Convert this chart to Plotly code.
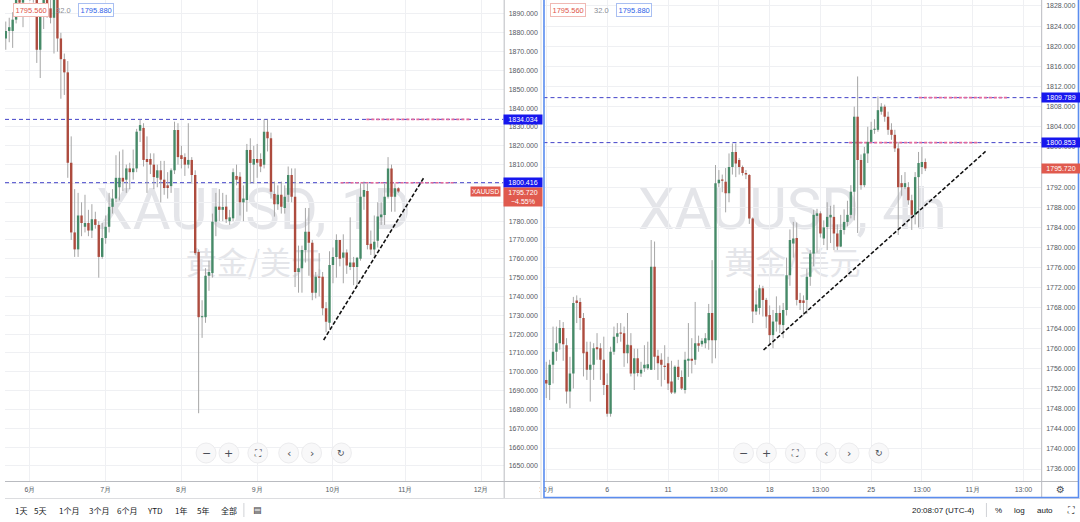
import numpy as np
import pandas as pd
import plotly.graph_objects as go

W, H = 1080, 522
FONT = "Liberation Sans, Arial, sans-serif"
CJK = "Noto Sans CJK SC, sans-serif"

# ---------------- daily XAUUSD (left panel) ----------------
d_first_day = "2021-05-21"
d_open = [1877, 1881, 1881, 1887, 1899, 1896, 1903,
          1905, 1903, 1908, 1871, 1891, 1899, 1893, 1888, 1899, 1877,
          1866, 1859, 1811, 1774, 1765, 1783, 1777, 1779, 1775, 1781,
          1778, 1761, 1771, 1777, 1787.6, 1792, 1798, 1803, 1802, 1808,
          1806, 1808, 1828, 1829.5, 1813, 1813, 1810, 1803, 1807, 1802,
          1799, 1798.6, 1807, 1828.4, 1815, 1814, 1810, 1812.5, 1804.5, 1763.6,
          1729, 1729, 1751, 1752.4, 1779.7, 1787.7, 1786, 1787.7, 1780, 1781.5,
          1804, 1803.6, 1790, 1791.2, 1817.8, 1810, 1813, 1813, 1810, 1827.5,
          1824, 1794.4, 1789, 1794, 1787, 1794, 1804.5, 1793, 1753, 1755,
          1764.7, 1774.4, 1768.5, 1742, 1750.5, 1750.5, 1733.7, 1726, 1756.7, 1761,
          1770, 1760.5, 1763.4, 1755.7, 1758, 1755.7, 1760, 1793, 1796, 1768,
          1765, 1769.6, 1782, 1783.3, 1793, 1808, 1793, 1797.5]
d_high = [1886, 1888, 1891, 1902, 1912, 1906, 1910,
          1916, 1910, 1909, 1895, 1903, 1903, 1900, 1904, 1903, 1880,
          1869, 1865, 1825, 1797, 1795, 1790, 1794, 1786, 1789, 1785,
          1780, 1779, 1783, 1795, 1797, 1815, 1817, 1818, 1810, 1811,
          1818, 1829, 1834, 1832, 1825, 1816, 1816, 1810, 1812, 1812,
          1806, 1808, 1832.8, 1832, 1820, 1816, 1832, 1814, 1807, 1765,
          1738, 1755, 1759, 1784, 1795, 1797, 1795, 1794, 1786, 1808,
          1810, 1806, 1799, 1821, 1824, 1820, 1821, 1816, 1834, 1834,
          1827, 1801, 1799, 1801, 1799, 1809, 1808, 1808, 1767, 1767,
          1787, 1787, 1770, 1753, 1763, 1753, 1737, 1764, 1766, 1773,
          1770, 1773, 1765, 1782, 1761, 1761, 1800, 1801, 1800, 1775,
          1783, 1790, 1790, 1800, 1814, 1810, 1800, 1798]
d_low = [1871, 1875, 1872, 1885, 1891, 1883, 1898,
         1897, 1896, 1864, 1856, 1882, 1888, 1885, 1869, 1870, 1845,
         1847, 1803, 1770, 1761, 1761, 1772, 1774, 1772, 1771, 1776,
         1750, 1760, 1768, 1774, 1784, 1790, 1791, 1796, 1795, 1797,
         1802, 1806, 1822, 1809, 1795, 1805, 1797, 1798, 1790, 1794,
         1792, 1795, 1805, 1810, 1808, 1804, 1808, 1800, 1762, 1678,
         1718, 1726, 1743, 1750, 1772, 1780, 1780, 1779, 1778, 1780,
         1799, 1783, 1780, 1785, 1800, 1800, 1803, 1806, 1808, 1817,
         1792, 1782.4, 1786, 1784, 1784, 1790, 1790, 1745, 1742, 1742,
         1758, 1751, 1738, 1739, 1740, 1730, 1721, 1723, 1747, 1750,
         1756, 1747, 1752, 1754, 1746, 1746, 1759, 1786, 1765, 1762,
         1761, 1766, 1778, 1778, 1792, 1785, 1785, 1795]
d_close = [1881, 1883, 1887, 1899, 1896, 1903, 1905,
           1903, 1908, 1871, 1891, 1899, 1893, 1888, 1899, 1877, 1866,
           1859, 1811, 1774, 1765, 1783, 1779, 1779, 1775, 1781, 1778,
           1761, 1771, 1777, 1787.6, 1792, 1803, 1803, 1801, 1808, 1806,
           1808, 1827.5, 1831, 1812.5, 1811.4, 1810, 1803.4, 1807, 1802, 1797.6,
           1797.6, 1807, 1828.4, 1814, 1813, 1810, 1812.5, 1804.5, 1763, 1729,
           1729.5, 1751, 1753, 1779.7, 1787.7, 1786, 1787.5, 1781, 1782, 1806,
           1802, 1790, 1792, 1817.8, 1810.9, 1813, 1811, 1809, 1827.5, 1824,
           1795.6, 1789, 1794, 1787.6, 1793, 1804.5, 1793, 1753, 1755, 1764.7,
           1774.4, 1768.5, 1742, 1750.5, 1750, 1733.7, 1726.6, 1756.7, 1761, 1770,
           1760, 1763.4, 1756.5, 1758, 1755.7, 1760.5, 1793, 1796.5, 1767.3, 1765,
           1769, 1782.4, 1783.5, 1793, 1808, 1793, 1797.5, 1795.72]
d_month_ticks = ["2021-06-01", "2021-07-01", "2021-08-02", "2021-09-01",
                 "2021-10-01", "2021-11-01", "2021-12-01"]
d_month_labels = ["6月", "7月", "8月", "9月", "10月", "11月", "12月"]
d_price_ticks = list(range(1650, 1891, 10))
d_levels = [1834.034, 1800.416]
d_level_marks = [(97.7, 127.7), (90.2, 123.7)]
d_trend_x = [85.3, 114.5]
d_trend_y = [1716.9, 1803.4]

# ---------------- 4h XAUUSD (right panel) ----------------
h4_first_pos = -18
h4_open = [1753.7, 1752.7, 1756.7, 1759.3, 1761, 1764, 1760.6, 1751.4, 1755, 1769.5,
           1769.2, 1766, 1759.3, 1755.7, 1756.7, 1760.2, 1760, 1757.7,
           1752.7, 1747, 1759.3, 1762.3, 1763.1, 1763, 1759, 1760.6, 1755, 1758,
           1755, 1756, 1756, 1755.7, 1776.2, 1758.5, 1757.7, 1756.5, 1757, 1753.4,
           1751.2, 1756.3, 1754.3, 1751.7, 1757.5, 1757.9, 1757.7, 1761, 1760.8, 1761,
           1761.6, 1767, 1761.6, 1792.8, 1793.5, 1793.1, 1790.8, 1796, 1799, 1797.4,
           1796, 1794.8, 1794.4, 1785.8, 1767.3, 1768, 1771.9, 1769.6, 1766.6, 1762.6,
           1765.3, 1767, 1764.6, 1767.6, 1774.5, 1780.8, 1781.9, 1769.6, 1769.5, 1769.6,
           1774.2, 1778.8, 1786.3, 1786.8, 1781.8, 1784.1, 1786, 1786.1, 1782.8, 1780.2,
           1783.5, 1785.1, 1786.5, 1791.1, 1806, 1797.4, 1792.4, 1798.7, 1801, 1803.4,
           1803.4, 1807, 1808, 1806, 1803.4, 1802.4, 1799.7, 1792.8, 1792, 1792,
           1789.4, 1786.5, 1794, 1796, 1797]
h4_high = [1757.3, 1757.7, 1764.3, 1764.3, 1765.6, 1765.2, 1762, 1758.3, 1770.2, 1770.5,
           1770, 1767, 1761.3, 1761.3, 1761, 1763, 1761, 1762.3,
           1755, 1760.3, 1764.3, 1765, 1765, 1764.3, 1767, 1763, 1759.9, 1759.9,
           1757.3, 1760.6, 1761.3, 1781.5, 1781.2, 1759.7, 1759, 1760.6, 1758.3, 1757.5,
           1756.6, 1757.7, 1755.6, 1759.3, 1765, 1762, 1769.2, 1762.5, 1762, 1763,
           1768.8, 1777.5, 1796.4, 1795.4, 1794.5, 1795.8, 1798.7, 1800.7, 1800.7, 1797.8,
           1796.3, 1795.4, 1794.6, 1786, 1771.5, 1772.6, 1772.4, 1770, 1768.5, 1767.6,
           1770.3, 1768.5, 1769, 1778, 1783.6, 1785.1, 1785, 1771, 1770.5, 1775.8,
           1779.5, 1787.5, 1787.7, 1787.2, 1785.4, 1789, 1788.3, 1788.5, 1784.6, 1786.5,
           1787.6, 1789.3, 1792.4, 1808, 1814, 1798.5, 1800, 1804, 1805, 1805.5,
           1810, 1808.7, 1808.4, 1807, 1804.7, 1803.4, 1801, 1794.4, 1795, 1793,
           1790.5, 1795, 1799, 1800, 1797.7]
h4_low = [1750.1, 1749.7, 1753, 1757.5, 1759.7, 1757.5, 1749, 1748.1, 1752, 1765,
          1763.6, 1754.4, 1753.7, 1749.4, 1753.7, 1757.7, 1753.7, 1750.7,
          1746.4, 1746.4, 1758.7, 1761, 1761.3, 1756.3, 1757, 1754.4, 1751.7, 1754.4,
          1754.3, 1755.3, 1755.7, 1755.7, 1755.7, 1753.7, 1752.4, 1753.7, 1751.7, 1750.9,
          1750.9, 1753.7, 1751.7, 1751, 1754.3, 1755, 1756.7, 1759.3, 1760.3, 1760,
          1759.7, 1757, 1758, 1792, 1791, 1787, 1789, 1794.5, 1794, 1794.5,
          1794.3, 1793.6, 1784.7, 1765, 1766.6, 1766.7, 1766.3, 1764, 1760.6, 1760,
          1763.3, 1763, 1762, 1766.5, 1772.4, 1778, 1768.5, 1767.6, 1766.5, 1766.8,
          1772.4, 1776.3, 1779, 1782, 1780.5, 1779.5, 1780.9, 1779.5, 1779.5, 1780.1,
          1782.6, 1784.2, 1785.8, 1785.4, 1782.9, 1791.5, 1792, 1796.8, 1801, 1802.6,
          1803, 1806.4, 1805, 1802.4, 1801.4, 1799, 1782.5, 1790.3, 1791.6, 1788.5,
          1783.5, 1784.6, 1784, 1794.6, 1795.2]
h4_close = [1753, 1756.7, 1759.3, 1761, 1764, 1760.8, 1751.4, 1755, 1769, 1769,
            1766, 1759, 1755.7, 1756.7, 1760, 1759.8, 1757.7, 1752.7,
            1747, 1759.3, 1762.3, 1763, 1762.9, 1759, 1760.7, 1755, 1758, 1755.1,
            1755.7, 1756.7, 1756.8, 1776.2, 1758.3, 1757, 1756.7, 1756.3, 1753, 1751.2,
            1756.3, 1754.3, 1752, 1757.7, 1757.9, 1757.5, 1761, 1760.5, 1761.5, 1762,
            1767, 1761.6, 1792.8, 1793.5, 1793.3, 1790.8, 1796, 1799, 1796.7, 1796,
            1794.8, 1794.5, 1785.8, 1767.3, 1768.7, 1771.9, 1769.6, 1766.3, 1762.6, 1765.3,
            1767, 1764.7, 1767.6, 1774.5, 1781.5, 1781.8, 1769.6, 1769, 1769, 1774.2,
            1778.8, 1786.5, 1786.8, 1782.8, 1784, 1786.1, 1786.5, 1782.8, 1780.2, 1783.5,
            1785.1, 1786.5, 1791.1, 1806, 1797.4, 1792.4, 1798.7, 1801, 1803.4, 1803.6,
            1807.3, 1808, 1806, 1803.4, 1802.4, 1799.7, 1792, 1792, 1792.8, 1789.4,
            1786.5, 1794, 1796.8, 1797, 1795.72]
h4_tick_pos = [-18, 0, 18, 33, 48, 63, 78, 93, 108, 123]
h4_tick_labels = ["10月", "6", "11", "13:00", "18", "13:00", "25", "13:00", "11月", "13:00"]
h4_price_ticks = list(range(1736, 1829, 4))
h4_levels = [1809.789, 1800.853]
h4_level_marks = [(92.1, 118.5), (71.5, 110.0)]
h4_trend_x = [46.2, 111.8]
h4_trend_y = [1759.65, 1799.1]

last_price = 1795.72
last_change = "−4.55%"

# ---------------- positions ----------------
d_dates = pd.bdate_range(d_first_day, periods=len(d_open)).values.astype("datetime64[D]")
d_x = np.busday_count(np.datetime64("2021-06-01"), d_dates).tolist()
d_tick_pos = [int(np.busday_count(np.datetime64("2021-06-01"), np.datetime64(t))) for t in d_month_ticks]
h4_x = list(range(h4_first_pos, h4_first_pos + len(h4_open)))

D_XR = [-7.225, 137.57]
H4_XR = [-18.82, 128.24]

GREEN = "#468a68"
RED = "#ad4b3e"
WICK = "#a6a6a6"
GRID = "#eff0f3"
AXC = "#b9bbc0"
TXT = "#555a63"
LEVEL = "#4343c8"
PINK = "#e56a9c"


def wick_xy(xs, hi, lo):
    X, Y = [], []
    for x, h, l in zip(xs, hi, lo):
        X += [x, x, None]
        Y += [l, h, None]
    return X, Y


def body_xy(xs, o, c, minh, up):
    X, Y = [], []
    for x, oo, cc in zip(xs, o, c):
        if (cc >= oo) != up:
            continue
        lo, hi = min(oo, cc), max(oo, cc)
        if hi - lo < minh:
            m = (lo + hi) / 2
            lo, hi = m - minh / 2, m + minh / 2
        X += [x, x, None]
        Y += [lo, hi, None]
    return X, Y


fig = go.Figure()

# horizontal levels (drawn first so candles sit on top)
for xa, ya, xr, levels, marks in (("x", "y", D_XR, d_levels, d_level_marks),
                                   ("x2", "y2", H4_XR, h4_levels, h4_level_marks)):
    for lv, (m0, m1) in zip(levels, marks):
        fig.add_trace(go.Scatter(x=xr, y=[lv, lv], mode="lines",
                                 line=dict(color=LEVEL, width=1, dash="4px,3px"),
                                 hoverinfo="skip", xaxis=xa, yaxis=ya))
        fig.add_trace(go.Scatter(x=[m0, m1], y=[lv, lv], mode="lines",
                                 line=dict(color=PINK, width=1.6, dash="3px,2px"),
                                 hoverinfo="skip", xaxis=xa, yaxis=ya))


def add_candles(xs, o, hi, lo, c, minh, xa, ya):
    wx, wy = wick_xy(xs, hi, lo)
    fig.add_trace(go.Scatter(x=wx, y=wy, mode="lines", line=dict(color=WICK, width=1),
                             hoverinfo="skip", xaxis=xa, yaxis=ya))
    for up, col in ((True, GREEN), (False, RED)):
        bx, by = body_xy(xs, o, c, minh, up)
        fig.add_trace(go.Scatter(x=bx, y=by, mode="lines", line=dict(color=col, width=2.4),
                                 hoverinfo="skip", xaxis=xa, yaxis=ya))


add_candles(d_x, d_open, d_high, d_low, d_close, 0.6, "x", "y")
add_candles(h4_x, h4_open, h4_high, h4_low, h4_close, 0.22, "x2", "y2")

fig.add_trace(go.Scatter(x=d_trend_x, y=d_trend_y, mode="lines",
                         line=dict(color="#111111", width=1.6, dash="4px,2px"),
                         hoverinfo="skip", xaxis="x", yaxis="y"))
fig.add_trace(go.Scatter(x=h4_trend_x, y=h4_trend_y, mode="lines",
                         line=dict(color="#111111", width=1.6, dash="4px,2px"),
                         hoverinfo="skip", xaxis="x2", yaxis="y2"))


def px(x):
    return x / W


def py(y):
    return 1 - y / H


ydom = [py(481), 1]
axis_font = dict(size=7, color=TXT, family=FONT)

fig.update_layout(
    width=W, height=H, margin=dict(l=0, r=0, t=0, b=0),
    paper_bgcolor="white", plot_bgcolor="rgba(0,0,0,0)", showlegend=False,
    hovermode=False,
    xaxis=dict(domain=[0, px(501)], range=D_XR, tickvals=d_tick_pos,
               ticktext=d_month_labels, showgrid=True, gridcolor=GRID, zeroline=False,
               ticks="", tickfont=axis_font, ticklabelstandoff=3, anchor="y", fixedrange=True),
    yaxis=dict(domain=ydom, range=[1642.0, 1897.43], side="right", anchor="x",
               tickvals=d_price_ticks, ticktext=["%.3f" % v for v in d_price_ticks],
               showgrid=True, gridcolor=GRID, zeroline=False, ticks="", tickfont=axis_font,
               ticklabelstandoff=4, fixedrange=True),
    xaxis2=dict(domain=[px(541), px(1041)], range=H4_XR, tickvals=h4_tick_pos,
                ticktext=h4_tick_labels, showgrid=True, gridcolor=GRID, zeroline=False,
                ticks="", tickfont=axis_font, ticklabelstandoff=3, anchor="y2", fixedrange=True),
    yaxis2=dict(domain=ydom, range=[1733.62, 1829.19], side="right", anchor="x2",
                tickvals=h4_price_ticks, ticktext=["%.3f" % v for v in h4_price_ticks],
                showgrid=True, gridcolor=GRID, zeroline=False, ticks="", tickfont=axis_font,
                ticklabelstandoff=4, fixedrange=True),
)

shapes = []
# watermarks
for cx, t1 in ((250, "XAUUSD, 1D"), (791, "XAUUSD, 4h")):
    shapes.append(dict(type="rect", xref="paper", yref="paper", x0=px(cx - 200), x1=px(cx + 200),
                       y0=py(235), y1=py(175), line=dict(width=0), fillcolor="rgba(0,0,0,0)",
                       layer="below",
                       label=dict(text=t1, textposition="middle center",
                                  font=dict(size=58, color="#e4e5e9", family="Roboto"))))
    shapes.append(dict(type="rect", xref="paper", yref="paper", x0=px(cx - 120), x1=px(cx + 120),
                       y0=py(285), y1=py(245), line=dict(width=0), fillcolor="rgba(0,0,0,0)",
                       layer="below",
                       label=dict(text="黄金/美元", textposition="middle center",
                                  font=dict(size=31, color="#e4e5e9", family=CJK))))


def pline(x0, y0, x1, y1, color, width=1, layer="above"):
    shapes.append(dict(type="line", xref="paper", yref="paper", x0=px(x0), y0=py(y0),
                       x1=px(x1), y1=py(y1), line=dict(color=color, width=width), layer=layer))


# axis lines and borders
pline(501.5, 0, 501.5, 498, AXC)
pline(0, 481.5, 538, 481.5, AXC)
pline(1041.5, 0, 1041.5, 498, AXC)
pline(541, 481.5, 1078, 481.5, AXC)
pline(0, 498.5, 1080, 498.5, "#dcdde0")
pline(240, 503, 240, 517, "#d0d2d6")
pline(986, 503, 986, 517, "#d0d2d6")
# cover clipped part of first time label
shapes.append(dict(type="rect", xref="paper", yref="paper", x0=px(537.5), x1=px(541.5),
                   y0=py(497), y1=py(482), line=dict(width=0), fillcolor="white", layer="above"))
pline(538.5, 0, 538.5, 498, "#dcdde0")
# right panel selection border
shapes.append(dict(type="rect", xref="paper", yref="paper", x0=px(541.5), x1=px(1078.5),
                   y0=py(497.5), y1=py(-2), line=dict(color="#5b8def", width=1.6),
                   fillcolor="rgba(0,0,0,0)", layer="above"))

# toolbar circles
tool_icons = ["−", "+", "⛶", "‹", "›", "↻"]
tool_dx = [202, 225, 254, 285, 308, 338]
annotations = []
for off in (0, 540):
    for dx, ic in zip(tool_dx, tool_icons):
        cx = dx + off
        shapes.append(dict(type="circle", xref="paper", yref="paper", x0=px(cx - 10), x1=px(cx + 10),
                           y0=py(463), y1=py(443), line=dict(color="#ececee", width=1),
                           fillcolor="#f8f8f9", layer="above"))
        annotations.append(dict(x=px(cx), y=py(453), xref="paper", yref="paper", text=ic,
                                showarrow=False, xanchor="center", yanchor="middle",
                                font=dict(size=11 if ic in "−+‹›" else 9, color="#4a4e57",
                                          family="DejaVu Sans")))

fig.update_layout(shapes=shapes)


def ann(x, y, text, size=8, color="#131722", family=FONT, **kw):
    d = dict(x=px(x), y=py(y), xref="paper", yref="paper", text=text, showarrow=False,
             xanchor="center", yanchor="middle", font=dict(size=size, color=color, family=family))
    d.update(kw)
    return d


# legend boxes on top-left
for off in (0, 540):
    annotations.append(ann(26 + off, 10.5, "1795.560", size=7.5, color="#e0554b",
                           bordercolor="#f0b9b4", borderwidth=1, borderpad=1.5, bgcolor="white"))
    annotations.append(ann(59 + off, 10.5, "32.0", size=7.5, color="#8a8d94"))
    annotations.append(ann(91.5 + off, 10.5, "1795.880", size=7.5, color="#2f62e8",
                           bordercolor="#a9bff2", borderwidth=1, borderpad=1.5, bgcolor="white"))


def price_tag(yref, price, x0, text, bg, yanchor="middle", yshift=0, width=36):
    return dict(x=px(x0), y=price, xref="paper", yref=yref, text=text, showarrow=False,
                xanchor="left", yanchor=yanchor, yshift=yshift, bgcolor=bg, borderpad=1,
                width=width, align="center", font=dict(size=7, color="white", family=FONT))


for lv in d_levels:
    annotations.append(price_tag("y", lv, 500.5, "%.3f" % lv, "#1717ee"))
for lv in h4_levels:
    annotations.append(price_tag("y2", lv, 1041, "%.3f" % lv, "#1717ee"))
annotations.append(price_tag("y", last_price, 500.5, "%.3f<br>%s" % (last_price, last_change),
                             "#e05a4e", yanchor="top", yshift=5))
annotations.append(price_tag("y2", last_price, 1041, "%.3f" % last_price, "#e05a4e"))
annotations.append(dict(x=px(498), y=last_price, xref="paper", yref="y", text="XAUUSD",
                        showarrow=False, xanchor="right", yanchor="middle", yshift=0,
                        bgcolor="#e05a4e", borderpad=1, font=dict(size=6.5, color="white", family=FONT)))

# gear icon
annotations.append(ann(1060, 489, "⚙", size=10, color="#4a4e57", family="DejaVu Sans"))

# bottom bar
bottom_items = [("1天", 16), ("5天", 35), ("1个月", 64), ("3个月", 94), ("6个月", 123), ("YTD", 151),
                ("1年", 177), ("5年", 199), ("全部", 225)]
for t, x in bottom_items:
    annotations.append(ann(x, 510, t, size=8, family=CJK))
annotations.append(ann(254, 510, "▤", size=9, color="#333", family="DejaVu Sans"))
annotations.append(ann(943, 510, "20:08:07 (UTC-4)", size=8))
annotations.append(ann(998, 510, "%", size=8))
annotations.append(ann(1019, 510, "log", size=8))
annotations.append(ann(1045, 510, "auto", size=8))
annotations.append(ann(1071, 510, "⛶", size=9, color="#333", family="DejaVu Sans"))

fig.update_layout(annotations=annotations)

fig.write_html("out.html", config={"displayModeBar": False},
               post_script="document.body.style.margin='0';document.body.style.padding='0';"
                           "document.documentElement.style.overflow='hidden';")
